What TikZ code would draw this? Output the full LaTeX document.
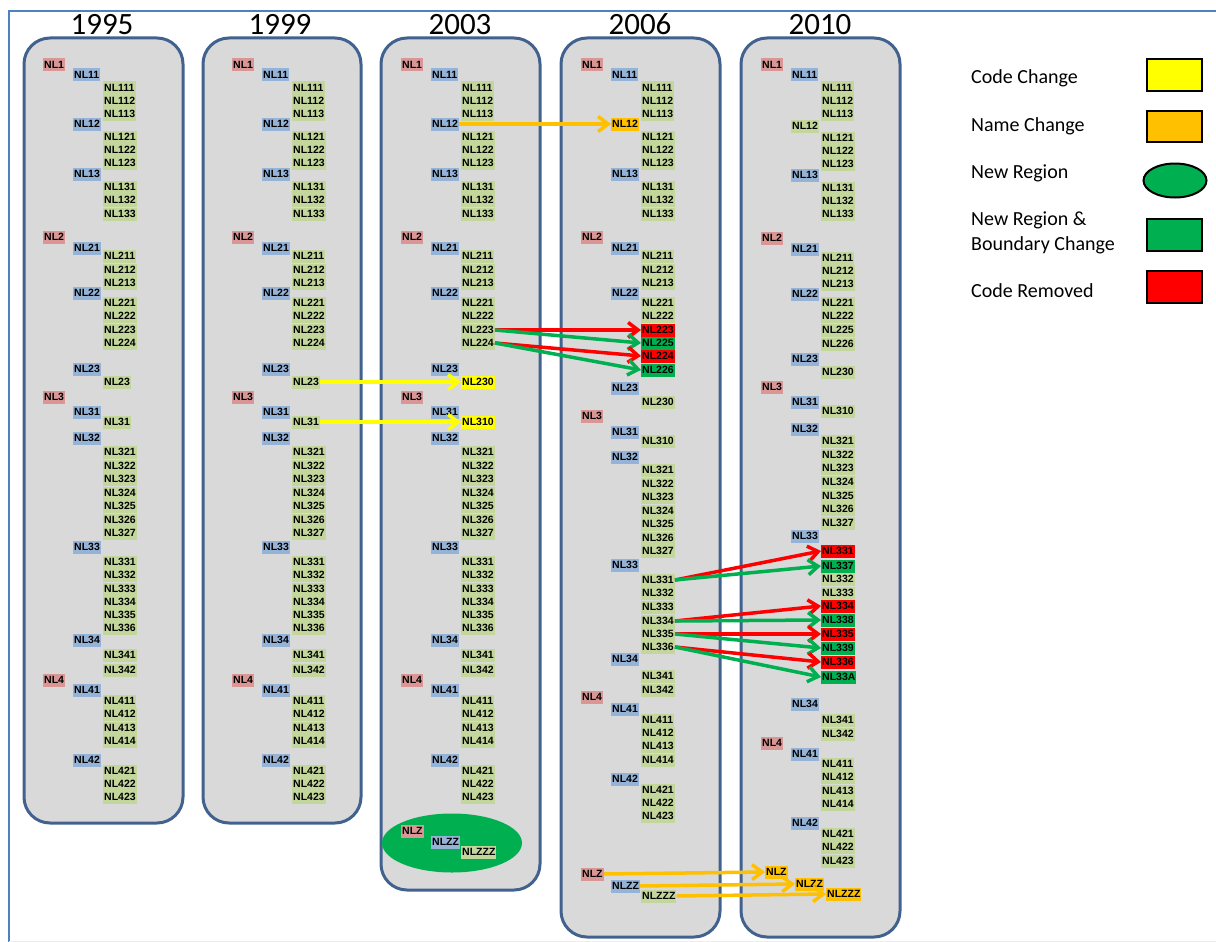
\documentclass[tikz,border=0pt]{standalone}
\usepackage{fontspec}
\setmainfont{Liberation Sans}
\newfontfamily\calfont{Carlito}
\usetikzlibrary{arrows.meta, shapes.geometric}
\definecolor{tagA}{HTML}{D99694}
\definecolor{tagB}{HTML}{95B3D7}
\definecolor{tagC}{HTML}{C3D69B}
\definecolor{chgY}{HTML}{FFFF00}
\definecolor{chgO}{HTML}{FFC000}
\definecolor{chgG}{HTML}{00B050}
\definecolor{chgR}{HTML}{FF0000}
\definecolor{colfill}{HTML}{D9D9D9}
\definecolor{coledge}{HTML}{41628E}
\definecolor{pageblue}{HTML}{4F81BD}
\tikzset{
  yearcol/.style={draw=coledge, fill=colfill, line width=3pt, rounded corners=26pt},
  tag/.style={anchor=west, inner xsep=1pt, inner ysep=2.6pt, text height=7.8pt, text depth=0pt,
              font=\bfseries\fontsize{10.5}{10.5}\selectfont, text=black},
  year/.style={font=\calfont\fontsize{31}{31}\selectfont, anchor=base},
  legend/.style={font=\calfont\fontsize{20}{20}\selectfont, anchor=base west, inner sep=0pt},
  swatch/.style={draw=black, line width=2pt},
  flow/.style={-{Straight Barb[length=10pt,width=15pt]}, line width=3.5pt},
  yflow/.style={flow, draw=chgY},
  oflow/.style={flow, draw=chgO},
  rflow/.style={flow, draw=chgR},
  gflow/.style={flow, draw=chgG}
}
% rows: level/label/y/fill
\newcommand\rowsold{1/NL1/65/tagA, 2/NL11/75/tagB, 3/NL111/88/tagC, 3/NL112/101/tagC, 3/NL113/114/tagC,
  2/NL12/124/tagB, 3/NL121/137/tagC, 3/NL122/150/tagC, 3/NL123/163/tagC,
  2/NL13/174/tagB, 3/NL131/187/tagC, 3/NL132/200/tagC, 3/NL133/214/tagC,
  1/NL2/237/tagA, 2/NL21/248/tagB, 3/NL211/256/tagC, 3/NL212/270/tagC, 3/NL213/283/tagC,
  2/NL22/293/tagB, 3/NL221/303/tagC, 3/NL222/316/tagC, 3/NL223/330/tagC, 3/NL224/343/tagC,
  2/NL23/369/tagB, 3/NL23/382/tagC,
  1/NL3/397/tagA, 2/NL31/412/tagB, 3/NL31/422/tagC,
  2/NL32/438/tagB, 3/NL321/452/tagC, 3/NL322/466/tagC, 3/NL323/479/tagC, 3/NL324/493/tagC,
  3/NL325/506/tagC, 3/NL326/520/tagC, 3/NL327/533/tagC,
  2/NL33/547/tagB, 3/NL331/562/tagC, 3/NL332/575/tagC, 3/NL333/589/tagC, 3/NL334/602/tagC,
  3/NL335/615/tagC, 3/NL336/628/tagC,
  2/NL34/640/tagB, 3/NL341/655/tagC, 3/NL342/670/tagC,
  1/NL4/680/tagA, 2/NL41/690/tagB, 3/NL411/701/tagC, 3/NL412/714/tagC, 3/NL413/728/tagC, 3/NL414/741/tagC,
  2/NL42/760/tagB, 3/NL421/771/tagC, 3/NL422/784/tagC, 3/NL423/797/tagC}
\newcommand\rowsmid{1/NL1/65/tagA, 2/NL11/75/tagB, 3/NL111/88/tagC, 3/NL112/101/tagC, 3/NL113/114/tagC,
  2/NL12/124/tagB, 3/NL121/137/tagC, 3/NL122/150/tagC, 3/NL123/163/tagC,
  2/NL13/174/tagB, 3/NL131/187/tagC, 3/NL132/200/tagC, 3/NL133/214/tagC,
  1/NL2/237/tagA, 2/NL21/248/tagB, 3/NL211/256/tagC, 3/NL212/270/tagC, 3/NL213/283/tagC,
  2/NL22/293/tagB, 3/NL221/303/tagC, 3/NL222/316/tagC, 3/NL223/330/tagC, 3/NL224/343/tagC,
  2/NL23/369/tagB, 3/NL230/382/chgY,
  1/NL3/397/tagA, 2/NL31/412/tagB, 3/NL310/422/chgY,
  2/NL32/438/tagB, 3/NL321/452/tagC, 3/NL322/466/tagC, 3/NL323/479/tagC, 3/NL324/493/tagC,
  3/NL325/506/tagC, 3/NL326/520/tagC, 3/NL327/533/tagC,
  2/NL33/547/tagB, 3/NL331/562/tagC, 3/NL332/575/tagC, 3/NL333/589/tagC, 3/NL334/602/tagC,
  3/NL335/615/tagC, 3/NL336/628/tagC,
  2/NL34/640/tagB, 3/NL341/655/tagC, 3/NL342/670/tagC,
  1/NL4/680/tagA, 2/NL41/690/tagB, 3/NL411/701/tagC, 3/NL412/714/tagC, 3/NL413/728/tagC, 3/NL414/741/tagC,
  2/NL42/760/tagB, 3/NL421/771/tagC, 3/NL422/784/tagC, 3/NL423/797/tagC,
  1/NLZ/831/tagA, 2/NLZZ/842/tagB, 3/NLZZZ/852/tagC}
\newcommand\rowsnew{1/NL1/65/tagA, 2/NL11/75/tagB, 3/NL111/88/tagC, 3/NL112/101/tagC, 3/NL113/114/tagC,
  2/NL12/124/chgO, 3/NL121/137/tagC, 3/NL122/150/tagC, 3/NL123/163/tagC,
  2/NL13/174/tagB, 3/NL131/187/tagC, 3/NL132/200/tagC, 3/NL133/214/tagC,
  1/NL2/237/tagA, 2/NL21/248/tagB, 3/NL211/256/tagC, 3/NL212/270/tagC, 3/NL213/283/tagC,
  2/NL22/293/tagB, 3/NL221/303/tagC, 3/NL222/316/tagC, 3/NL223/330/chgR, 3/NL225/343/chgG,
  3/NL224/356/chgR, 3/NL226/370/chgG,
  2/NL23/388/tagB, 3/NL230/402/tagC,
  1/NL3/416/tagA, 2/NL31/432/tagB, 3/NL310/441/tagC,
  2/NL32/457/tagB, 3/NL321/470/tagC, 3/NL322/484/tagC, 3/NL323/497/tagC, 3/NL324/511/tagC,
  3/NL325/524/tagC, 3/NL326/538/tagC, 3/NL327/551/tagC,
  2/NL33/565/tagB, 3/NL331/580/tagC, 3/NL332/593/tagC, 3/NL333/607/tagC, 3/NL334/621/tagC,
  3/NL335/634/tagC, 3/NL336/647/tagC,
  2/NL34/659/tagB, 3/NL341/676/tagC, 3/NL342/690/tagC,
  1/NL4/697/tagA, 2/NL41/709/tagB, 3/NL411/720/tagC, 3/NL412/733/tagC, 3/NL413/746/tagC, 3/NL414/760/tagC,
  2/NL42/779/tagB, 3/NL421/790/tagC, 3/NL422/803/tagC, 3/NL423/816/tagC,
  1/NLZ/874/tagA, 2/NLZZ/886/tagB, 3/NLZZZ/896/tagC}
\newcommand\rowslast{1/NL1/65/tagA, 2/NL11/75/tagB, 3/NL111/88/tagC, 3/NL112/101/tagC, 3/NL113/114/tagC,
  2/NL12/126/tagC, 3/NL121/138/tagC, 3/NL122/151/tagC, 3/NL123/164/tagC,
  2/NL13/175/tagB, 3/NL131/188/tagC, 3/NL132/201/tagC, 3/NL133/214/tagC,
  1/NL2/238/tagA, 2/NL21/249/tagB, 3/NL211/258/tagC, 3/NL212/271/tagC, 3/NL213/284/tagC,
  2/NL22/294/tagB, 3/NL221/303/tagC, 3/NL222/316/tagC, 3/NL225/330/tagC, 3/NL226/344/tagC,
  2/NL23/359/tagB, 3/NL230/372/tagC,
  1/NL3/387/tagA, 2/NL31/402/tagB, 3/NL310/411/tagC,
  2/NL32/429/tagB, 3/NL321/441/tagC, 3/NL322/455/tagC, 3/NL323/468/tagC, 3/NL324/482/tagC,
  3/NL325/496/tagC, 3/NL326/509/tagC, 3/NL327/523/tagC,
  2/NL33/536/tagB, 3/NL331/551/chgR, 3/NL337/566/chgG, 3/NL332/579/tagC, 3/NL333/593/tagC,
  3/NL334/606/chgR, 3/NL338/620/chgG, 3/NL335/634/chgR, 3/NL339/648/chgG,
  3/NL336/662/chgR, 3/NL33A/677/chgG,
  2/NL34/704/tagB, 3/NL341/720/tagC, 3/NL342/734/tagC,
  1/NL4/743/tagA, 2/NL41/754/tagB, 3/NL411/764/tagC, 3/NL412/777/tagC, 3/NL413/791/tagC, 3/NL414/804/tagC,
  2/NL42/823/tagB, 3/NL421/834/tagC, 3/NL422/847/tagC, 3/NL423/861/tagC}

\begin{document}
\begin{tikzpicture}[x=1pt, y=-1pt]
  \useasboundingbox (0,0) rectangle (1216,942);
  \draw[pageblue, line width=2pt] (9,942) -- (9,11) -- (1216,11);
  \draw[black!7, line width=1pt] (9,941) -- (1216,941);

  % year columns
  \draw[yearcol] (24,38) rectangle (183,823);
  \draw[yearcol] (203,38) rectangle (361,823);
  \draw[yearcol] (381,38) rectangle (540,890);
  \draw[yearcol] (561,38) rectangle (720,937);
  \draw[yearcol] (741,38) rectangle (900,937);
  \node[year] (y1995) at (102,35) {1995};
  \node[year] (y1999) at (280,35) {1999};
  \node[year] (y2003) at (460,35) {2003};
  \node[year] (y2006) at (640,35) {2006};
  \node[year] (y2010) at (820,35) {2010};

  \node[ellipse, fill=chgG, minimum width=140pt, minimum height=59pt] (zone) at (452,843) {};

  % region codes
  \foreach \c/\xb in {1/43, 2/232} {
    \foreach \lv/\lab/\y/\fc in \rowsold
      \node[tag, fill=\fc] (c\c-\lv-\lab) at ({\xb+30*(\lv-1)},\y) {\lab};
  }
  \foreach \lv/\lab/\y/\fc in \rowsmid
    \node[tag, fill=\fc] (c3-\lv-\lab) at ({401+30*(\lv-1)},\y) {\lab};
  \foreach \lv/\lab/\y/\fc in \rowsnew
    \node[tag, fill=\fc] (c4-\lv-\lab) at ({581+30*(\lv-1)},\y) {\lab};
  \foreach \lv/\lab/\y/\fc in \rowslast
    \node[tag, fill=\fc] (c5-\lv-\lab) at ({761+30*(\lv-1)},\y) {\lab};
  \node[tag, fill=chgO] (c5-1-NLZ) at (765,872) {NLZ};
  \node[tag, fill=chgO] (c5-2-NLZZ) at (795,884) {NLZZ};
  \node[tag, fill=chgO] (c5-3-NLZZZ) at (826,894) {NLZZZ};

  % changes
  \draw[yflow] (c2-3-NL23.east) -- (c3-3-NL230.west);
  \draw[yflow] (c2-3-NL31.east) -- (c3-3-NL310.west);
  \draw[oflow] (c3-2-NL12.east) -- (c4-2-NL12.west);
  \draw[rflow] (c3-3-NL223.east) -- (c4-3-NL223.west);
  \draw[gflow] (c3-3-NL223.east) -- (c4-3-NL225.west);
  \draw[rflow] (c3-3-NL224.east) -- (c4-3-NL224.west);
  \draw[gflow] (c3-3-NL224.east) -- (c4-3-NL226.west);
  \draw[rflow] (c4-3-NL331.east) -- (c5-3-NL331.west);
  \draw[gflow] (c4-3-NL331.east) -- (c5-3-NL337.west);
  \draw[rflow] (c4-3-NL334.east) -- (c5-3-NL334.west);
  \draw[gflow] (c4-3-NL334.east) -- (c5-3-NL338.west);
  \draw[rflow] (c4-3-NL335.east) -- (c5-3-NL335.west);
  \draw[gflow] (c4-3-NL335.east) -- (c5-3-NL339.west);
  \draw[rflow] (c4-3-NL336.east) -- (c5-3-NL336.west);
  \draw[gflow] (c4-3-NL336.east) -- (c5-3-NL33A.west);
  \draw[oflow] (c4-1-NLZ.east) -- (c5-1-NLZ.west);
  \draw[oflow] (c4-2-NLZZ.east) -- (c5-2-NLZZ.west);
  \draw[oflow] (c4-3-NLZZZ.east) -- (c5-3-NLZZZ.west);

  % legend
  \node[legend] (lcode) at (971,84) {Code Change};
  \node[legend] (lname) at (971,131) {Name Change};
  \node[legend] (lnew) at (971,178) {New Region};
  \node[legend] (lbound) at (971,225) {New Region \&};
  \node[legend] (lbound2) at (971,250) {Boundary Change};
  \node[legend] (lgone) at (971,297) {Code Removed};
  \draw[swatch, fill=chgY] (1147,59) rectangle (1202,91);
  \draw[swatch, fill=chgO] (1147,111) rectangle (1202,142);
  \node[swatch, ellipse, fill=chgG, minimum width=63pt, minimum height=34pt, inner sep=0pt] (snew) at (1175,180.5) {};
  \draw[swatch, fill=chgG] (1147,219) rectangle (1202,251);
  \draw[swatch, fill=chgR] (1147,271) rectangle (1202,303);
\end{tikzpicture}
\end{document}
